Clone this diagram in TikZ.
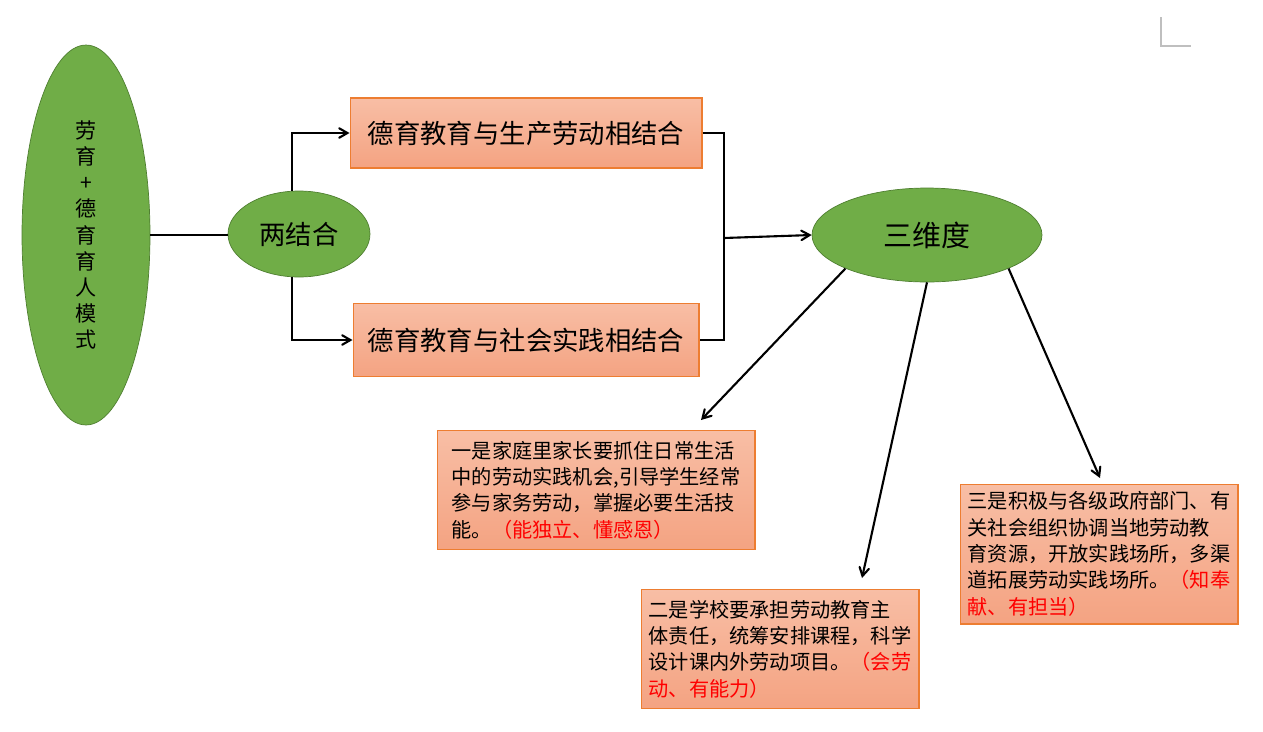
\documentclass[tikz,border=0pt]{standalone}
\usepackage{fontspec}
\setmainfont{Noto Sans CJK SC}
\usetikzlibrary{shapes.geometric, positioning, arrows}

\definecolor{leafgreen}{HTML}{70AD47}
\definecolor{leafedge}{HTML}{4F7F31}
\definecolor{peachtop}{HTML}{F8BEA5}
\definecolor{peachbot}{HTML}{F4A382}
\definecolor{boxedge}{HTML}{ED7D31}
\definecolor{notered}{HTML}{FF0000}
\definecolor{markgray}{HTML}{BFBFBF}

\begin{document}
\begin{tikzpicture}[x=0.02cm, y=-0.02cm]
	\tikzstyle{oval}=[ellipse, draw=leafedge, fill=leafgreen, inner sep=0pt]
	\tikzstyle{peach}=[rectangle, draw=boxedge, semithick, top color=peachtop, bottom color=peachbot, align=left]
	\tikzstyle{note}=[peach, font=\fontsize{11.5}{15}\selectfont]
	\tikzstyle{every edge}=[draw,->,>=angle 60,line width=1.2pt]

	\useasboundingbox (0,0) rectangle (1263,731);

	\node[oval, minimum width=2.56cm, minimum height=7.6cm, align=center, font=\fontsize{12}{14.8}\selectfont] (mode) at (86,235) {劳\\育\\+\\德\\育\\育\\人\\模\\式};
	\node[oval, minimum width=2.84cm, minimum height=1.72cm, font=\fontsize{15}{18}\selectfont] (two) at (299,234) {两结合};
	\node[oval, minimum width=4.6cm, minimum height=1.88cm, font=\fontsize{16.5}{20}\selectfont] (three) at (927,235) {三维度};

	\node[peach, minimum width=7.04cm, minimum height=1.4cm, font=\fontsize{15}{18}\selectfont] (prod) at (526,133) {德育教育与生产劳动相结合};
	\node[peach, minimum width=6.92cm, minimum height=1.46cm, font=\fontsize{15}{18}\selectfont] (soc) at (526,340) {德育教育与社会实践相结合};

	\node[note, minimum width=6.36cm, minimum height=2.38cm] (home) at (596,490) {一是家庭里家长要抓住日常生活\\中的劳动实践机会,引导学生经常\\参与家务劳动，掌握必要生活技\\能。{\color{notered}（能独立、懂感恩）}};
	\node[note, minimum width=5.56cm, minimum height=2.38cm] (school) at (780,649) {二是学校要承担劳动教育主\\体责任，统筹安排课程，科学\\设计课内外劳动项目。{\color{notered}（会劳}\\{\color{notered}动、有能力）}};
	\node[note, minimum width=5.56cm, minimum height=2.8cm] (gov) at (1099,554) {三是积极与各级政府部门、有\\关社会组织协调当地劳动教\\育资源，开放实践场所，多渠\\道拓展劳动实践场所。{\color{notered}（知奉}\\{\color{notered}献、有担当）}};

	\coordinate (brk) at (724,238);
	\coordinate (tip1) at (701,420);
	\coordinate (tip2) at (862,578);
	\coordinate (tip3) at (1100,478);

	\draw[line width=1.2pt] (mode.east) -- (mode.east -| two.west);
	\draw[->,>=angle 60,line width=1.2pt] ([xshift=-0.14cm]two.north) |- (prod.west);
	\draw[->,>=angle 60,line width=1.2pt] ([xshift=-0.14cm]two.south) |- (soc.west);
	\draw[line width=1.2pt] (prod.east) -| (brk) |- (soc.east);
	\path (brk) edge (three.west);
	\path (three.south west) edge (tip1)
	(three.south) edge (tip2)
	(three.south east) edge (tip3);

	% page corner mark
	\draw[markgray, line width=0.8pt] (1161,17) -- (1161,46) -- (1191,46);
\end{tikzpicture}
\end{document}
